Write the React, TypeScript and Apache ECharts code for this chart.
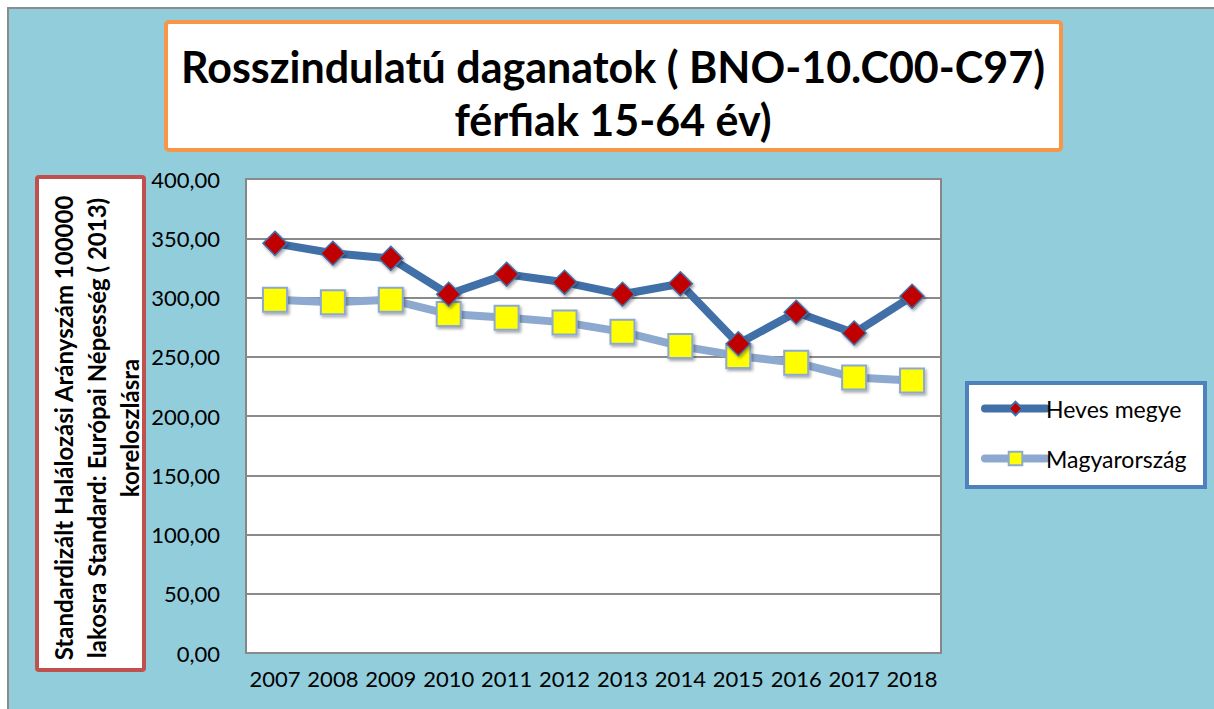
import React, { useEffect, useRef } from "react";
import * as echarts from "echarts";

const years = ["2007", "2008", "2009", "2010", "2011", "2012", "2013", "2014", "2015", "2016", "2017", "2018"];
const heves = [345.7, 337.3, 333.0, 302.7, 319.6, 312.8, 302.7, 311.6, 261.0, 287.5, 270.0, 301.0];
const magyarorszag = [298.0, 296.0, 298.0, 286.0, 283.0, 279.0, 271.0, 259.0, 250.7, 245.0, 232.5, 230.0];
const titleLines = ["Rosszindulatú daganatok ( BNO-10.C00-C97)", "férfiak 15-64 év)"];
const yTitleLines = [
  "Standardizált Halálozási Arányszám 100000",
  "lakosra Standard: Európai Népesség ( 2013)",
  "koreloszlásra",
];
const seriesNames = ["Heves megye", "Magyarország"];

const FONT = "Lato, 'Open Sans', sans-serif";

export default function App() {
  const ref = useRef<HTMLDivElement>(null);
  useEffect(() => {
    if (!ref.current) return;
    const chart = echarts.init(ref.current, undefined, { renderer: "svg" });
    const shadow = {
      shadowBlur: 3,
      shadowOffsetX: 1.5,
      shadowOffsetY: 2,
      shadowColor: "rgba(0,0,0,0.35)",
    };
    chart.setOption({
      animation: false,
      backgroundColor: "transparent",
      textStyle: { fontFamily: FONT },
      grid: {
        left: 246,
        top: 179,
        width: 695,
        height: 474,
        show: true,
        backgroundColor: "#ffffff",
        borderColor: "#868686",
        borderWidth: 2,
      },
      xAxis: {
        type: "category",
        data: years,
        boundaryGap: true,
        axisLine: { show: false },
        axisTick: { show: false },
        axisLabel: { color: "#000", fontSize: 22, margin: 14, fontFamily: FONT, interval: 0 },
      },
      yAxis: {
        type: "value",
        min: 0,
        max: 400,
        interval: 50,
        axisLine: { show: false },
        axisTick: { show: false },
        axisLabel: {
          color: "#000",
          fontSize: 22,
          margin: 26,
          fontFamily: FONT,
          formatter: (v: number) => v.toFixed(2).replace(".", ","),
        },
        splitLine: { lineStyle: { color: "#8A8A8A", width: 2 } },
      },
      legend: {
        orient: "vertical",
        left: 976,
        top: 392,
        itemWidth: 61,
        itemHeight: 17,
        itemGap: 27,
        lineStyle: { width: 8, cap: "round" },
        textStyle: { fontSize: 23, color: "#000", fontFamily: FONT, padding: [0, 0, 0, -5] },
        data: seriesNames,
      },
      graphic: [
        {
          type: "rect",
          shape: { x: 166, y: 22, width: 895, height: 128, r: 3 },
          style: { fill: "#ffffff", stroke: "#F79646", lineWidth: 4 },
        },
        {
          type: "text",
          x: 613,
          y: 66,
          style: {
            text: titleLines[0],
            fontSize: 43,
            fontWeight: "bold",
            fontFamily: FONT,
            fill: "#000",
            align: "center",
            verticalAlign: "middle",
          },
        },
        {
          type: "text",
          x: 613,
          y: 119,
          style: {
            text: titleLines[1],
            fontSize: 43,
            fontWeight: "bold",
            fontFamily: FONT,
            fill: "#000",
            align: "center",
            verticalAlign: "middle",
          },
        },
        {
          type: "rect",
          shape: { x: 37, y: 177, width: 107, height: 493, r: 2 },
          style: { fill: "#ffffff", stroke: "#C0504D", lineWidth: 4 },
        },
        {
          type: "text",
          x: 96,
          y: 428,
          rotation: Math.PI / 2,
          style: {
            text: yTitleLines.join("\n"),
            fontSize: 24,
            lineHeight: 33,
            fontWeight: "bold",
            fontFamily: FONT,
            fill: "#000",
            align: "center",
            verticalAlign: "middle",
          },
        },
        {
          type: "rect",
          z: -1,
          shape: { x: 967, y: 383, width: 238, height: 104 },
          style: { fill: "#ffffff", stroke: "#4F81BD", lineWidth: 4 },
        },
      ],
      series: [
        {
          name: seriesNames[0],
          type: "line",
          data: heves,
          symbol: "diamond",
          symbolSize: 24,
          lineStyle: { color: "#4170A8", width: 8 },
          itemStyle: { color: "#C00000", borderColor: "#4170A8", borderWidth: 1.5, ...shadow },
          z: 3,
        },
        {
          name: seriesNames[1],
          type: "line",
          data: magyarorszag,
          symbol: "rect",
          symbolSize: 24,
          lineStyle: { color: "#8EA9CF", width: 8 },
          itemStyle: { color: "#FFFF00", borderColor: "#8EA9CF", borderWidth: 2, ...shadow },
          z: 2,
        },
      ],
    });
    return () => chart.dispose();
  }, []);

  return (
    <div style={{ position: "absolute", left: 0, top: 0, width: 1214, height: 709, background: "#ffffff", overflow: "hidden" }}>
      <div
        style={{
          position: "absolute",
          left: 7,
          top: 7,
          width: 1214,
          height: 709,
          background: "#92CDDC",
          borderTop: "2px solid #8C8C8C",
          borderLeft: "2px solid #8C8C8C",
        }}
      />
      <div ref={ref} style={{ position: "absolute", left: 0, top: 0, width: 1214, height: 709 }} />
    </div>
  );
}
